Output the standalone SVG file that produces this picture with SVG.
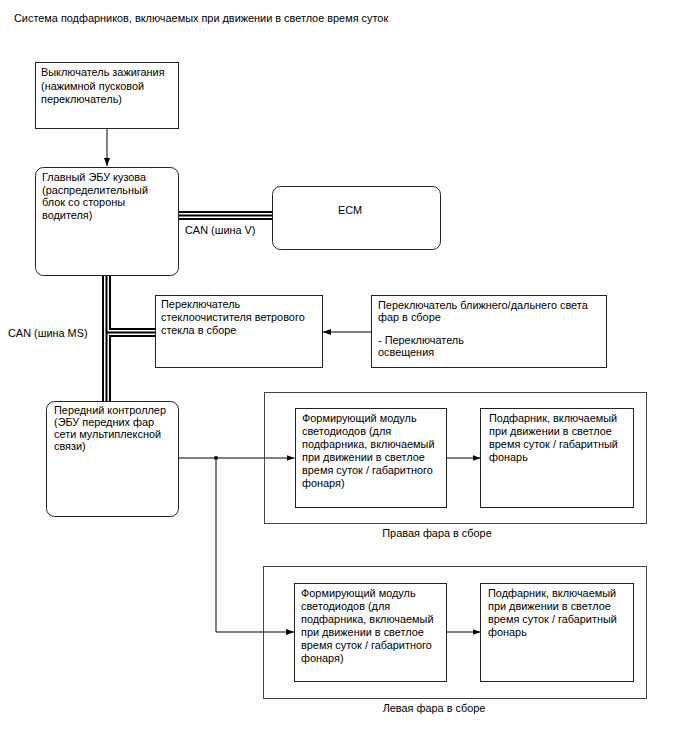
<svg xmlns="http://www.w3.org/2000/svg" width="688" height="755" viewBox="0 0 688 755">
<style>
text{font-family:"Liberation Sans",Arial,sans-serif;font-size:10.9px;fill:#000}
.b{fill:#fff;stroke:#222;stroke-width:1}
.o{fill:none;stroke:#444;stroke-width:1}
.w{fill:none;stroke:#000;stroke-width:1}
.bus{fill:none;stroke:#000;stroke-width:9}
.bw{fill:none;stroke:#fff;stroke-width:1.5}
</style>
<defs>
<marker id="ar" markerWidth="8" markerHeight="6" refX="8" refY="3" orient="auto" markerUnits="userSpaceOnUse">
<path d="M0,0 L8,3 L0,6 Z" fill="#000"/>
</marker>
</defs>
<rect width="688" height="755" fill="#fff"/>
<text x="14" y="22">Система подфарников, включаемых при движении в светлое время суток</text>

<g id="connectors">
<path class="w" d="M107,128 V166" marker-end="url(#ar)"/>
<path class="bus" d="M178,215.5 H272"/>
<path class="bw" d="M178,213.75 H272 M178,217.25 H272"/>
<path class="bus" d="M106.5,276 V401 M106.5,332.5 H155"/>
<path class="bw" d="M104.75,276 V401 M108.25,276 V330.75 H155 M108.25,401 V334.25 H155"/>
<path class="w" d="M371.5,332 H323" stroke="#444" marker-end="url(#ar)"/>
<path class="w" d="M178,458 H294.5" marker-end="url(#ar)"/>
<path class="w" d="M216,458 V632 H294" marker-end="url(#ar)"/>
<circle cx="216" cy="458" r="2" fill="#000"/>
<path class="w" d="M447,458 H480.5" marker-end="url(#ar)"/>
<path class="w" d="M447,632 H480.5" marker-end="url(#ar)"/>
<text x="185" y="234">CAN (шина V)</text>
<text x="8" y="337">CAN (шина MS)</text>
</g>

<g id="ignition">
<rect class="b" x="35.5" y="62.5" width="143" height="66"/>
<text x="41" y="76">Выключатель зажигания</text>
<text x="41" y="89.5">(нажимной пусковой</text>
<text x="41" y="103">переключатель)</text>
</g>

<g id="main-ecu">
<rect class="b" x="35.5" y="167.5" width="143" height="108" rx="8"/>
<text x="42" y="181">Главный ЭБУ кузова</text>
<text x="42" y="193.5">(распределительный</text>
<text x="42" y="206">блок со стороны</text>
<text x="42" y="218.5">водителя)</text>
</g>

<g id="ecm">
<rect class="b" x="272.5" y="186.5" width="168" height="63" rx="8"/>
<text x="350" y="214" text-anchor="middle">ECM</text>
</g>

<g id="wiper-switch">
<rect class="b" x="155.5" y="295.5" width="167" height="72"/>
<text x="161" y="308">Переключатель</text>
<text x="161" y="321">стеклоочистителя ветрового</text>
<text x="161" y="334">стекла в сборе</text>
</g>

<g id="light-switch">
<rect class="b" x="371.5" y="295.5" width="235" height="72"/>
<text x="378" y="309">Переключатель ближнего/дальнего света</text>
<text x="378" y="321">фар в сборе</text>
<text x="378" y="344">- Переключатель</text>
<text x="378" y="356">освещения</text>
</g>

<g id="front-controller">
<rect class="b" x="46.5" y="401.5" width="132" height="115" rx="8"/>
<text x="54" y="414">Передний контроллер</text>
<text x="54" y="426">(ЭБУ передних фар</text>
<text x="54" y="438">сети мультиплексной</text>
<text x="54" y="450">связи)</text>
</g>

<g id="right-headlight">
<rect class="o" x="264.5" y="392.5" width="382" height="131"/>
<text x="437" y="537" text-anchor="middle">Правая фара в сборе</text>
</g>

<g id="right-led-module">
<rect class="b" x="295.5" y="408.5" width="151" height="99"/>
<text x="302" y="422">Формирующий модуль</text>
<text x="302" y="435">светодиодов (для</text>
<text x="302" y="448">подфарника, включаемый</text>
<text x="302" y="461">при движении в светлое</text>
<text x="302" y="474">время суток / габаритного</text>
<text x="302" y="487">фонаря)</text>
</g>

<g id="right-lamp">
<rect class="b" x="480.5" y="408.5" width="153" height="99"/>
<text x="489" y="422">Подфарник, включаемый</text>
<text x="489" y="435">при движении в светлое</text>
<text x="489" y="448">время суток / габаритный</text>
<text x="489" y="461">фонарь</text>
</g>

<g id="left-headlight">
<rect class="o" x="263.5" y="566.5" width="383" height="132"/>
<text x="434" y="712" text-anchor="middle">Левая фара в сборе</text>
</g>

<g id="left-led-module">
<rect class="b" x="294.5" y="583.5" width="152" height="98"/>
<text x="301" y="597">Формирующий модуль</text>
<text x="301" y="610">светодиодов (для</text>
<text x="301" y="623">подфарника, включаемый</text>
<text x="301" y="636">при движении в светлое</text>
<text x="301" y="649">время суток / габаритного</text>
<text x="301" y="662">фонаря)</text>
</g>

<g id="left-lamp">
<rect class="b" x="480.5" y="583.5" width="153" height="98"/>
<text x="488" y="597">Подфарник, включаемый</text>
<text x="488" y="610">при движении в светлое</text>
<text x="488" y="623">время суток / габаритный</text>
<text x="488" y="636">фонарь</text>
</g>
</svg>
